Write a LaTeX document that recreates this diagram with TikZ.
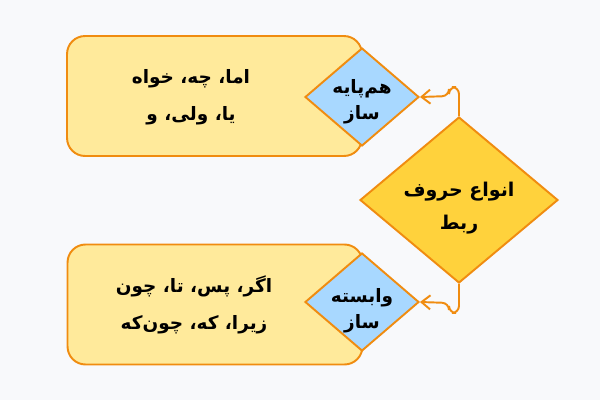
\documentclass[tikz,border=0pt]{standalone}
\usepackage{fontspec}
\usepackage{tikz}
\usetikzlibrary{shapes.geometric,arrows.meta}
\newfontfamily\arabicfont[Script=Arabic]{DejaVu Sans}
\TeXXeTstate=1

\definecolor{bgcol}{HTML}{F8F9FB}
\definecolor{boxfill}{HTML}{FFEA9B}
\definecolor{edgecol}{HTML}{F08C10}
\definecolor{bluefill}{HTML}{A8D8FF}
\definecolor{goldfill}{HTML}{FFD23C}

\begin{document}
\begin{tikzpicture}[x=0.02cm,y=-0.02cm,
  listbox/.style={draw=edgecol,fill=boxfill,line width=1.1pt,rounded corners=0.36cm,
    minimum width=5.9cm,minimum height=2.4cm,inner sep=0pt},
  kindbox/.style={diamond,draw=edgecol,fill=bluefill,line width=1.1pt,inner sep=0pt,
    minimum width=2.28cm,minimum height=1.96cm},
  rootbox/.style={diamond,draw=edgecol,fill=goldfill,line width=1.1pt,inner sep=0pt,
    minimum width=3.96cm,minimum height=3.32cm},
  fatxt/.style={align=center,font=\arabicfont\bfseries\fontsize{10.5}{21}\selectfont},
  kindtxt/.style={align=center,font=\arabicfont\bfseries\fontsize{10.5}{15}\selectfont},
  linkarrow/.style={draw=edgecol,line width=1.1pt,rounded corners=4pt,
    -{Straight Barb[length=5pt,width=8pt,line width=1.1pt]}}]
\useasboundingbox[fill=bgcol] (0,0) rectangle (600,400);

% boxes with the word lists
\node[listbox] (listA) at (214.5,96) {};
\node[listbox] (listB) at (215,304.5) {};
\node[fatxt] (wordsA) at (191,97) {\beginR اما، چه، خواه\endR\\\beginR یا، ولی، و\endR};
\node[fatxt] (wordsB) at (194,305) {\beginR اگر، پس، تا، چون\endR\\\beginR زیرا، که، چون‌که\endR};

%-------------------------------------
\node[kindbox] (hampaye) at (362,97) {};
\node[kindbox] (vabaste) at (362,302) {};
\node[rootbox] (rabt) at (459,200) {};
\node[kindtxt] (hampayeTxt) at (362,101.5) {\beginR هم‌پایه\endR\\\beginR ساز\endR};
\node[kindtxt] (vabasteTxt) at (362,311) {\beginR وابسته\endR\\\beginR ساز\endR};
\node[fatxt,font=\arabicfont\bfseries\fontsize{10.8}{19}\selectfont] (rabtTxt) at (459,208) {\beginR انواع حروف\endR\\\beginR ربط\endR};

%-------------------------------------
\draw[linkarrow] (rabt.north) -- ++(0,-29) -- ++(-10,0) -- ++(0,9) -- (hampaye.east);
\draw[linkarrow] (rabt.south) -- ++(0,29) -- ++(-10,0) -- ++(0,-10) -- (vabaste.east);
\end{tikzpicture}
\end{document}
